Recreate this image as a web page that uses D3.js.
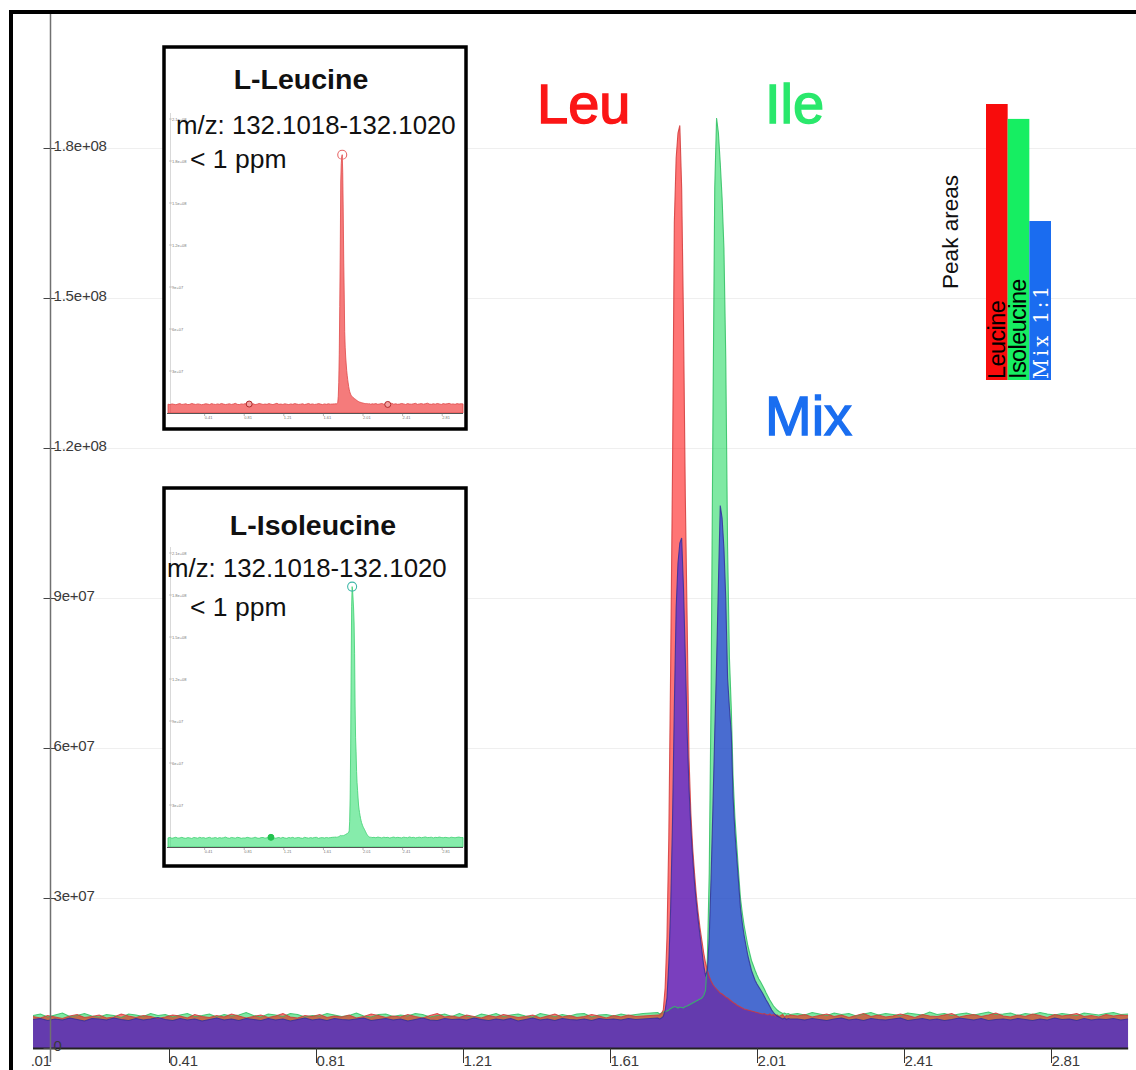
<!DOCTYPE html>
<html><head><meta charset="utf-8">
<script src="https://cdn.jsdelivr.net/npm/d3@7"></script>
<style>body{margin:0;background:#fff}svg{display:block}</style>
</head><body>
<svg id="c" width="1136" height="1070"></svg>
<script>
// ---------- DATA (intensities in millions of counts, retention time in min) ----------
const baseX=[0.04,0.06,0.08,0.10,0.12,0.14,0.16,0.18,0.20,0.22,
0.24,0.26,0.28,0.30,0.32,0.34,0.36,0.38,0.40,0.42,
0.44,0.46,0.48,0.50,0.52,0.54,0.56,0.58,0.60,0.62,
0.64,0.66,0.68,0.70,0.72,0.74,0.76,0.78,0.80,0.82,
0.84,0.86,0.88,0.90,0.92,0.94,0.96,0.98,1.00,1.02,
1.04,1.06,1.08,1.10,1.12,1.14,1.16,1.18,1.20,1.22,
1.24,1.26,1.28,1.30,1.32,1.34,1.36,1.38,1.40,1.42,
1.44,1.46,1.48,1.50,1.52,1.54,1.56,1.58,1.60,1.62,
1.64,1.66,1.68,1.70,1.72,1.74];
const leuBase=[6.3,6.0,6.5,6.2,5.9,6.4,6.7,6.1,6.3,6.6,
6.0,6.2,6.8,6.4,6.1,6.5,6.3,5.9,6.2,6.6,
6.4,6.0,6.7,6.3,6.1,6.5,6.2,6.8,6.4,6.0,
6.3,6.6,6.1,6.4,6.9,6.2,6.0,6.5,6.3,6.7,
6.1,6.4,6.2,6.6,6.0,6.3,6.8,6.5,6.1,6.4,
6.2,6.7,6.3,6.0,6.5,6.9,6.2,6.4,6.1,6.6,
6.3,6.0,6.5,6.2,6.7,6.4,6.1,6.3,6.6,6.0,
6.4,6.8,6.2,6.5,6.1,6.3,6.7,6.4,6.0,6.5,
6.2,6.6,6.3,6.4,6.5,6.6];
const ileBase=[6.5,6.8,6.2,6.6,7.0,6.3,6.5,6.9,6.4,6.2,
6.7,6.5,6.1,6.8,6.6,6.3,6.9,6.5,6.7,6.2,
6.6,6.9,6.3,6.5,6.8,6.2,6.7,6.4,6.6,7.1,
6.5,6.2,6.8,6.6,6.3,6.9,6.7,6.2,6.5,6.4,
6.9,6.6,6.3,6.5,7.0,6.4,6.2,6.7,6.8,6.3,
6.6,6.4,6.9,6.7,6.2,6.5,6.8,6.3,6.9,6.4,
6.2,6.8,6.5,6.9,6.3,6.6,6.8,6.4,6.2,6.9,
6.6,6.3,6.7,6.4,6.8,6.9,6.2,6.6,6.7,6.4,
6.8,6.5,6.7,6.9,7.0,7.1];
const mixBase=[5.7,5.9,5.5,5.8,5.6,6.0,5.7,5.4,5.9,5.8,
5.6,6.0,5.7,5.5,5.9,5.6,5.8,6.1,5.7,5.5,
5.9,5.6,5.8,5.4,5.7,6.0,5.6,5.8,5.5,5.9,
5.7,5.5,5.9,5.6,5.8,5.4,5.7,6.0,5.6,5.8,
5.5,5.9,5.7,5.6,5.8,6.0,5.5,5.7,5.9,5.6,
5.8,5.4,5.7,6.0,5.6,5.5,5.9,5.7,5.8,5.6,
6.0,5.7,5.5,5.8,5.6,5.9,5.4,5.7,6.0,5.6,
5.8,5.5,5.9,5.7,5.6,5.8,5.5,5.9,5.7,5.8,
5.6,5.9,5.7,5.8,5.9,6.0];

const peakX=[1.745,1.750,1.755,1.760,1.765,1.770,1.775,1.780,1.785,1.790,
1.795,1.800,1.805,1.810,1.815,1.820,1.825,1.830,1.835,1.840,
1.845,1.850,1.855,1.860,1.865,1.870,1.875,1.880,1.885,1.890,
1.895,1.900,1.905,1.910,1.915,1.920,1.925,1.930,1.935,1.940,
1.945,1.950,1.955,1.960,1.965,1.970,1.975,1.980,1.985,1.990,
1.995,2.000,2.005,2.010,2.015,2.020,2.025,2.030,2.035,2.040,
2.045,2.050,2.055,2.060,2.065,2.070,2.075,2.080,2.085,2.090,
2.095,2.100];
const leuPeak=[6.6,6.9,7.6,12,22,42,76,115,165,178,
183,184.5,172,145,110,85,58,47,40,35,
30.5,27,24,21.5,19,17,15.5,14.3,13.4,12.7,
12.2,11.8,11.4,11,10.8,10.5,10.2,10,9.7,9.4,
9.1,8.9,8.6,8.4,8.2,8.0,7.8,7.7,7.6,7.5,
7.4,7.3,7.2,7.1,7.0,6.9,6.8,6.9,6.7,6.6,
6.8,6.5,6.7,6.4,6.6,6.3,6.5,6.7,6.2,6.5,
6.4,6.6];
const ilePeak=[6.8,7.0,7.2,7.3,7.4,7.6,7.9,8.1,8.3,8.2,
8.0,8.2,8.1,8.0,8.3,8.4,8.6,8.8,9.0,9.2,
9.4,9.6,9.8,10.0,10.5,11.5,18,35,70,125,
172,186,183,177,170,160,138,100,78,68,
54,46,40.5,35,30,27,24.5,22.5,20.5,19,
17.5,16.5,15.5,14.6,13.8,13.2,12.5,11.8,11,10.3,
9.6,9,8.4,8.0,7.6,7.3,7.1,6.9,7.0,6.8,
6.9,6.7];
const mixPeak=[5.8,6.0,6.3,7.5,10,17,28,45,68,88,
97,101,102,92,78,63,52,44,38,33,
29,25.5,22.5,19.5,16.5,14.5,15.5,22,34,48,
63,77,93,108.5,106,100,90,74,68,63,
50,43,38,33,28,25,22.5,20.5,18.5,17,
15.5,14.5,13.5,12.8,12.2,11.6,11.0,10.3,9.6,9.0,
8.3,7.6,7.1,6.7,6.4,6.2,6.0,5.8,6.0,5.7,
5.9,5.8];

const tailX=[2.12,2.14,2.16,2.18,2.20,2.22,2.24,2.26,2.28,2.30,
2.32,2.34,2.36,2.38,2.40,2.42,2.44,2.46,2.48,2.50,
2.52,2.54,2.56,2.58,2.60,2.62,2.64,2.66,2.68,2.70,
2.72,2.74,2.76,2.78,2.80,2.82,2.84,2.86,2.88,2.90,
2.92,2.94,2.96,2.98,3.00,3.02];
const leuTail=[6.4,6.7,6.2,6.5,6.8,6.3,6.6,6.1,6.5,6.9,
6.3,6.6,6.2,6.4,6.8,6.5,6.1,6.7,6.4,6.3,
6.6,6.9,6.2,6.5,6.7,6.3,6.6,7.0,6.4,6.2,
6.6,6.3,6.8,6.5,6.1,6.7,6.4,6.6,6.9,6.3,
6.5,6.2,6.7,6.4,6.6,6.5];
const ileTail=[6.9,6.6,7.1,6.8,6.5,7.0,6.7,6.9,6.4,6.8,
7.1,6.6,6.9,6.7,6.5,7.0,6.8,6.6,7.2,6.7,
6.9,6.5,6.8,7.0,6.6,6.9,7.2,6.7,6.8,7.0,
6.5,6.9,6.7,7.1,6.8,6.6,6.9,6.7,6.5,7.0,
6.8,6.6,6.9,7.1,6.7,6.8];
const mixTail=[5.8,5.6,5.9,5.7,5.5,5.8,6.0,5.6,5.8,5.5,
5.9,5.7,5.6,5.8,6.0,5.5,5.7,5.9,5.6,5.8,
5.5,5.7,6.0,5.8,5.6,5.9,5.5,5.7,5.8,5.6,
5.9,5.7,5.5,5.8,5.6,6.0,5.7,5.8,5.5,5.9,
5.6,5.8,5.7,5.9,5.6,5.8];

const xTicks=[0.01,0.41,0.81,1.21,1.61,2.01,2.41,2.81];
const xTickLabels=["0.01","0.41","0.81","1.21","1.61","2.01","2.41","2.81"];
const yTicks=[0,3e7,6e7,9e7,1.2e8,1.5e8,1.8e8];
const yTickLabels=["0","3e+07","6e+07","9e+07","1.2e+08","1.5e+08","1.8e+08"];
const insetYTicks=[3e7,6e7,9e7,1.2e8,1.5e8,1.8e8,2.1e8];
const insetYTickLabels=["3e+07","6e+07","9e+07","1.2e+08","1.5e+08","1.8e+08","2.1e+08"];

const seriesNames=["Leu","Ile","Mix"];
const barCategories=["Leucine","Isoleucine","Mix 1:1"];
const barValues=[100,94.6,57.6];
const insetTitles=["L-Leucine","L-Isoleucine"];
const insetMz="m/z: 132.1018-132.1020";
const insetPpm="< 1 ppm";
const leuMarkerTimes=[0.86,2.26];
const ileMarkerTimes=[1.08];

// ---------- BUILD ----------
function build(xsArr, vsArr){
  const out=[];
  xsArr.forEach((xs,k)=>{const vs=vsArr[k];const n=Math.min(xs.length,vs.length);
    for(let i=0;i<n;i++) out.push({t:xs[i],v:vs[i]*1e6});});
  return out;
}
const leu=build([baseX,peakX,tailX],[leuBase,leuPeak,leuTail]);
const ile=build([baseX,peakX,tailX],[ileBase,ilePeak,ileTail]);
const mix=build([baseX,peakX,tailX],[mixBase,mixPeak,mixTail]);

const svg=d3.select("#c");
const FONT='"Liberation Sans", Arial, Helvetica, sans-serif';

const x=d3.scaleLinear().domain([0.01,2.81]).range([22,1051]);
const y=d3.scaleLinear().domain([0,1.8e8]).range([1048,148]);
const x0=x(0.04), x1=x(3.02);

const defs=svg.append("defs");
defs.append("clipPath").attr("id","plotClip").append("rect")
  .attr("x",x0).attr("y",14).attr("width",x1-x0).attr("height",y(0)-14);
defs.append("clipPath").attr("id","axClip").append("rect")
  .attr("x",31).attr("y",1040).attr("width",1105).attr("height",40);

// gridlines
svg.append("g").selectAll("line").data(yTicks.slice(1)).join("line")
  .attr("x1",51).attr("x2",1136).attr("y1",d=>y(d)+0.5).attr("y2",d=>y(d)+0.5)
  .attr("stroke","#efefef").attr("stroke-width",1);

// areas (green under red, mix on top)
const area=d3.area().x(d=>x(d.t)).y0(y(0)).y1(d=>y(d.v));
const line=d3.line().x(d=>x(d.t)).y(d=>y(d.v));
const styles=[
  {data:ile, fill:"rgb(0,212,72)", op:0.5, stroke:"#2fbf62"},
  {data:leu, fill:"rgb(255,0,0)", op:0.54, stroke:"#d23a3a"},
  {data:mix, fill:"rgb(40,30,235)", op:0.62, stroke:"#33309a"}
];
const pg=svg.append("g").attr("clip-path","url(#plotClip)");
styles.forEach(s=>{
  pg.append("path").datum(s.data).attr("d",area).attr("fill",s.fill).attr("fill-opacity",s.op);
});
styles.forEach(s=>{
  pg.append("path").datum(s.data).attr("d",line).attr("fill","none")
    .attr("stroke",s.stroke).attr("stroke-width",1.1).attr("stroke-opacity",0.85);
});

// x axis
svg.append("line").attr("x1",x0).attr("x2",x1).attr("y1",y(0)+0.5).attr("y2",y(0)+0.5)
  .attr("stroke","#222").attr("stroke-width",2);
const xa=svg.append("g").attr("clip-path","url(#axClip)").append("g")
  .attr("transform",`translate(0,${y(0)})`)
  .call(d3.axisBottom(x).tickValues(xTicks).tickFormat((d,i)=>xTickLabels[i]).tickSize(15).tickPadding(0));
xa.select(".domain").remove();
xa.selectAll(".tick line").attr("stroke","#333").attr("stroke-width",1);
xa.selectAll(".tick text").attr("text-anchor","start").attr("x",0).attr("y",18).attr("dy",0)
  .attr("fill","#3a3a3a").style("font-family",FONT).style("font-size","15px").style("letter-spacing","-0.2px");

// y axis
const ya=svg.append("g").attr("transform","translate(50.5,0)")
  .call(d3.axisRight(y).tickValues(yTicks).tickFormat((d,i)=>yTickLabels[i]).tickSize(5).tickPadding(3));
ya.select(".domain").remove();
ya.selectAll(".tick line").attr("x1",-7).attr("x2",5).attr("stroke","#444");
ya.selectAll(".tick text").attr("x",3).attr("dy",2).attr("fill","#3a3a3a")
  .style("font-family",FONT).style("font-size","15px").style("letter-spacing","-0.2px");
svg.append("line").attr("x1",50.5).attr("x2",50.5).attr("y1",14).attr("y2",1062)
  .attr("stroke","#707070").attr("stroke-width",1.5);

// frame
svg.append("line").attr("x1",9).attr("x2",1136).attr("y1",12).attr("y2",12).attr("stroke","#000").attr("stroke-width",4);
svg.append("line").attr("x1",11).attr("x2",11).attr("y1",10).attr("y2",1070).attr("stroke","#000").attr("stroke-width",4);

// peak labels
const labelSpec=[
  {t:seriesNames[0], x:537, y:123, c:"#fb1616"},
  {t:seriesNames[1], x:765, y:123, c:"#2ae86c"},
  {t:seriesNames[2], x:765, y:435, c:"#1a6ef0"}];
svg.append("g").selectAll("text").data(labelSpec).join("text")
  .attr("x",d=>d.x).attr("y",d=>d.y).text(d=>d.t)
  .attr("fill",d=>d.c).attr("stroke",d=>d.c).attr("stroke-width",1.4)
  .style("font-family",FONT).style("font-size","56px");

// insets
function inset(cfg){
  const g=svg.append("g");
  g.append("rect").attr("x",cfg.bx).attr("y",cfg.by).attr("width",cfg.bw).attr("height",cfg.bh)
    .attr("fill","#fff").attr("stroke","#000").attr("stroke-width",3.5);
  const ix=d3.scaleLinear().domain([0.04,3.02]).range([168,463]);
  const iy=d3.scaleLinear().domain([0,1e8]).range([cfg.base,cfg.base-140]);
  g.append("line").attr("x1",170.5).attr("x2",170.5).attr("y1",cfg.base-300).attr("y2",cfg.base)
    .attr("stroke","#c8c8c8").attr("stroke-width",0.7);
  g.selectAll("text.iy").data(insetYTicks).join("text").attr("class","iy")
    .attr("x",172).attr("y",d=>iy(d)+1.5).text((d,i)=>insetYTickLabels[i])
    .attr("fill","#777").style("font-family",FONT).style("font-size","4px");
  g.selectAll("line.iyt").data(insetYTicks).join("line").attr("class","iyt")
    .attr("x1",169).attr("x2",172).attr("y1",d=>iy(d)).attr("y2",d=>iy(d)).attr("stroke","#999").attr("stroke-width",0.5);
  g.append("path").datum(cfg.data).attr("d",d3.area().x(d=>ix(d.t)).y0(cfg.base).y1(d=>iy(d.v)))
    .attr("fill",cfg.fill).attr("stroke",cfg.stroke).attr("stroke-width",0.8);
  g.append("line").attr("x1",167).attr("x2",463).attr("y1",cfg.base+0.5).attr("y2",cfg.base+0.5)
    .attr("stroke","#555").attr("stroke-width",1);
  g.selectAll("text.ix").data(xTicks.slice(1)).join("text").attr("class","ix")
    .attr("x",d=>ix(d)).attr("y",cfg.base+6).text((d,i)=>xTickLabels[i+1])
    .attr("fill","#777").style("font-family",FONT).style("font-size","4px");
  g.selectAll("line.ixt").data(xTicks.slice(1)).join("line").attr("class","ixt")
    .attr("x1",d=>ix(d)).attr("x2",d=>ix(d)).attr("y1",cfg.base).attr("y2",cfg.base+3).attr("stroke","#666").attr("stroke-width",0.5);
  const top=cfg.data.reduce((a,b)=>b.v>a.v?b:a);
  g.append("circle").attr("cx",ix(top.t)).attr("cy",iy(top.v)).attr("r",4.5)
    .attr("fill","none").attr("stroke",cfg.peakMark).attr("stroke-width",1.1);
  const bis=d3.bisector(d=>d.t).center;
  cfg.marks.forEach(t=>{const p=cfg.data[bis(cfg.data,t)];
    g.append("circle").attr("cx",ix(p.t)).attr("cy",iy(p.v)).attr("r",3)
      .attr("fill",cfg.markFill).attr("stroke",cfg.markStroke).attr("stroke-width",1);});
  g.append("text").attr("x",cfg.tx).attr("y",cfg.ty).attr("text-anchor","middle").text(cfg.title)
    .attr("fill","#111").style("font-family",FONT).style("font-weight","bold").style("font-size","28.5px");
  g.append("text").attr("x",cfg.mx).attr("y",cfg.my).text(insetMz)
    .attr("fill","#111").style("font-family",FONT).style("font-size","25.8px");
  g.append("text").attr("x",190).attr("y",cfg.py).text(insetPpm)
    .attr("fill","#111").style("font-family",FONT).style("font-size","26.5px");
}
inset({bx:164,by:47,bw:302,bh:382,base:413,data:leu,fill:"rgba(240,60,60,0.68)",stroke:"#e04848",
  peakMark:"#e86a6a",marks:leuMarkerTimes,markFill:"#f4a0a0",markStroke:"#b02828",
  title:insetTitles[0],tx:301,ty:89,mx:176,my:134,py:168});
inset({bx:164,by:488,bw:302,bh:378,base:847,data:ile,fill:"rgba(60,225,120,0.62)",stroke:"#3ccf70",
  peakMark:"#3fb8a8",marks:ileMarkerTimes,markFill:"#22c24e",markStroke:"#22c24e",
  title:insetTitles[1],tx:313,ty:535,mx:167,my:577,py:616});

// peak-area bar chart
const xb=d3.scaleBand().domain(barCategories).range([986,1051]).padding(0);
const yb=d3.scaleLinear().domain([0,100]).range([380,104]);
const barColors=["#f80c0c","#16ee62","#1a6cf0"];
const bg=svg.append("g");
bg.selectAll("rect").data(barCategories).join("rect")
  .attr("x",d=>xb(d)).attr("width",xb.bandwidth()).attr("y",(d,i)=>yb(barValues[i]))
  .attr("height",(d,i)=>yb(0)-yb(barValues[i])).attr("fill",(d,i)=>barColors[i]);
bg.selectAll("text.bl").data(barCategories).join("text").attr("class","bl")
  .attr("transform",d=>`translate(${xb(d)+xb.bandwidth()-3},379) rotate(-90)`)
  .text(d=>d)
  .attr("fill",(d,i)=>i===2?"#fff":"#000")
  .style("font-family",(d,i)=>i===2?'"DejaVu Serif", "Liberation Serif", serif':FONT)
  .style("font-size",(d,i)=>i===2?"19.5px":"23.5px")
  .style("letter-spacing",(d,i)=>i===2?"3px":"-0.6px");
bg.append("text").attr("transform","translate(958,232) rotate(-90)").attr("text-anchor","middle")
  .text("Peak areas").attr("fill","#111").style("font-family",FONT).style("font-size","22.5px");
</script>
</body></html>
